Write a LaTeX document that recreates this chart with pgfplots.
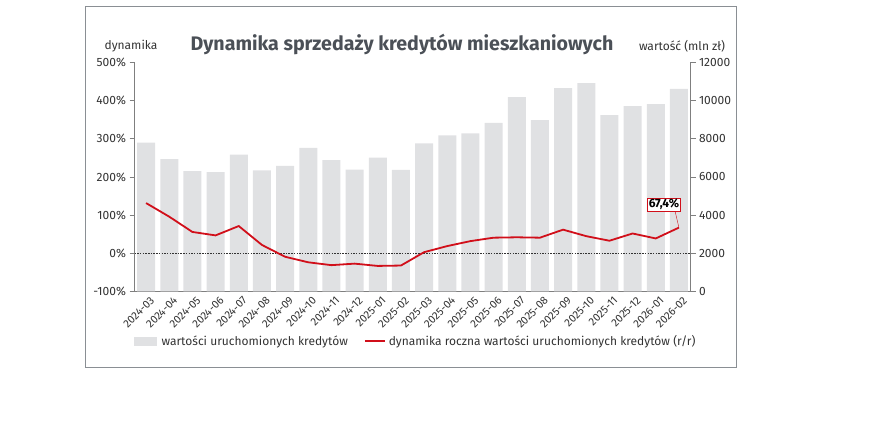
\documentclass[border=0pt]{standalone}
\usepackage{pgfplots}
\pgfplotsset{compat=1.18}
\usepackage{fontspec}
\setmainfont{Fira Sans}
\definecolor{bargray}{HTML}{E0E1E3}
\definecolor{linered}{HTML}{D10F1A}
\definecolor{txt}{HTML}{333333}
\definecolor{titlec}{HTML}{4B5057}
\definecolor{axc}{HTML}{7F7F7F}
\definecolor{framec}{HTML}{8A8F94}
\begin{document}
\begin{tikzpicture}[x=1pt,y=1pt]
\path[use as bounding box] (0,0) rectangle (883,438);
\draw[framec, line width=1pt] (85,431) rectangle (736,70);
\node[font=\fontsize{19.6}{22}\selectfont\bfseries, text=titlec] at (402,393.5) {Dynamika sprzedaży kredytów mieszkaniowych};
\node[font=\fontsize{12}{14}\selectfont, text=txt] at (131,392) {dynamika};
\node[font=\fontsize{12}{14}\selectfont, text=txt] at (682,392) {wartość (mln zł)};
\begin{axis}[
  at={(134.5pt,146.5pt)}, anchor=south west,
  scale only axis, width=556pt, height=229pt,
  xmin=-0.5, xmax=23.5, ymin=0, ymax=12000,
  axis x line*=bottom, axis y line*=right,
  axis line style={axc, line width=0.8pt},
  ytick={0,2000,4000,6000,8000,10000,12000},
  scaled y ticks=false,
  yticklabel style={/pgf/number format/1000 sep={}},
  /pgf/number format/1000 sep={},
  /pgf/number format/assume math mode=true,
  tick align=outside, major tick length=5pt,
  ytick style={axc, line width=0.8pt},
  xtick={0,...,23},
  xtick style={draw=none},
  xticklabels={2024-03,2024-04,2024-05,2024-06,2024-07,2024-08,2024-09,2024-10,2024-11,2024-12,2025-01,2025-02,2025-03,2025-04,2025-05,2025-06,2025-07,2025-08,2025-09,2025-10,2025-11,2025-12,2026-01,2026-02},
  x tick label style={rotate=45, anchor=north east, inner sep=1pt, xshift=4pt, yshift=-1pt, font=\fontsize{11}{13}\selectfont},
  y tick label style={font=\fontsize{12}{14}\selectfont},
  tick label style={text=txt},
  ybar, bar width=18pt,
]
\addplot[fill=bargray, draw=none] coordinates {
(0,7800) (1,6940) (2,6310) (3,6260) (4,7170) (5,6350) (6,6580) (7,7520) (8,6890) (9,6380) (10,7010) (11,6370)
(12,7760) (13,8180) (14,8290) (15,8840) (16,10190) (17,8980) (18,10660) (19,10920) (20,9240) (21,9720) (22,9820) (23,10620)};
\end{axis}
\begin{axis}[
  at={(134.5pt,146.5pt)}, anchor=south west,
  scale only axis, width=556pt, height=229pt,
  xmin=-0.5, xmax=23.5, ymin=-100, ymax=500,
  axis x line=none, axis y line*=left,
  axis line style={axc, line width=0.8pt},
  ytick={-100,0,100,200,300,400,500},
  yticklabel={\pgfmathprintnumber{\tick}\%},
  /pgf/number format/assume math mode=true,
  tick align=outside, major tick length=5pt,
  ytick style={axc, line width=0.8pt},
  tick label style={font=\fontsize{12}{14}\selectfont, text=txt},
  legend style={at={(0.506,-0.216)}, anchor=center, draw=none, fill=none,
    font=\fontsize{12}{14}\selectfont, text=txt, legend columns=2,
    /tikz/every even column/.append style={column sep=14pt}},
  legend cell align=left,
]
\draw[black!80, line width=0.5pt, dash pattern=on 1.5pt off 1.2pt] (axis cs:-0.5,0) -- (axis cs:23.5,0);
\addlegendimage{legend image code/.code={\fill[bargray] (0pt,-4pt) rectangle (22pt,4pt); \path (25pt,0pt);}}
\addlegendentry{wartości uruchomionych kredytów}
\addplot[linered, line width=1.8pt, mark=none, legend image code/.code={\draw[linered, line width=2pt] (0pt,0pt) -- (20pt,0pt); \path (21pt,0pt);}] coordinates {
(0,131.7) (1,96) (2,56) (3,47) (4,71.5) (5,22) (6,-9) (7,-23.5) (8,-31) (9,-27) (10,-33) (11,-32)
(12,3) (13,19) (14,32) (15,41) (16,42) (17,41) (18,62) (19,45) (20,33) (21,52) (22,39) (23,67.4)};
\addlegendentry{dynamika roczna wartości uruchomionych kredytów (r/r)}
\draw[linered, line width=0.4pt] (axis cs:23,67.4) -- ++(-4pt,17pt)
  node[above, draw=linered, line width=0.6pt, fill=white, inner sep=1.2pt, font=\fontsize{12}{13}\selectfont\bfseries, text=black, xshift=-11pt, yshift=-1pt] {67,4\%};
\end{axis}
\end{tikzpicture}
\end{document}
